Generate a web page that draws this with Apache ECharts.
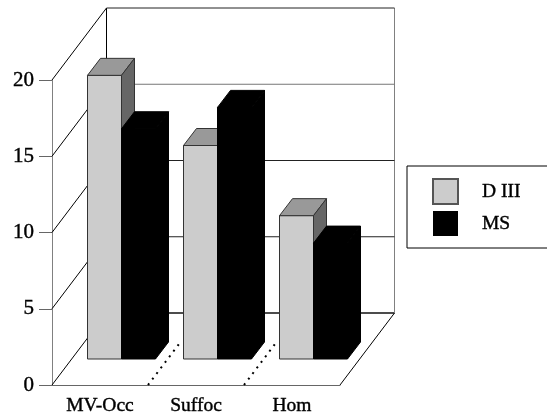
<!DOCTYPE html>
<html><head><meta charset="utf-8">
<style>html,body{margin:0;padding:0;background:#fff}#c{width:547px;height:418px}</style>
<script src="https://cdn.jsdelivr.net/npm/echarts@6/dist/echarts.min.js"></script>
</head><body><div id="c"></div>
<script>
const categories = ['MV-Occ', 'Suffoc', 'Hom'];
const dIII = [18.6, 14.0, 9.4];
const ms = [15.1, 16.5, 7.6];
const yTicks = [0, 5, 10, 15, 20];
const dividers = [1, 2];

const FONT = '"Liberation Serif","Times New Roman",serif';
const WALL_DX = 54.5, WALL_DY = -72;
const BAR_W = 34, BAR_LEFT = -12.5, BAR_FLOOR = -26, BAR_DX = 13, BAR_DY = -17;

const chart = echarts.init(document.getElementById('c'), null, {renderer: 'canvas'});

function line(x1, y1, x2, y2, stroke, lineWidth, dash) {
  return {type: 'line', shape: {x1, y1, x2, y2},
    style: {stroke, lineWidth: lineWidth || 1, lineDash: dash || null, fill: null}};
}
function poly(points, fill, stroke) {
  return {type: 'polygon', shape: {points}, style: {fill, stroke, lineWidth: 1}};
}
function renderFrame(params, api) {
  const v = api.value(0);
  const band = api.size([1, 0])[0];
  const left = api.coord([0, 0])[0] - band / 2;
  const right = api.coord([categories.length - 1, 0])[0] + band / 2;
  const y = api.coord([0, v])[1];
  const children = [
    line(left, y, left + WALL_DX, y + WALL_DY, '#000'),
    line(left + WALL_DX, y + WALL_DY, right + WALL_DX, y + WALL_DY,
      v === 15 ? '#777' : (v === 0 ? '#111' : '#222'), v === 0 ? 1.5 : 1)
  ];
  if (v === 0) {
    children.push(line(right, y, right + WALL_DX, y + WALL_DY, '#000'));
    const top = api.coord([0, 20])[1] + WALL_DY;
    children.push(line(left + WALL_DX, top, left + WALL_DX, y + WALL_DY, '#000'));
    children.push(line(right + WALL_DX, top, right + WALL_DX, y + WALL_DY, '#808080'));
  }
  return {type: 'group', children};
}
function renderDivider(params, api) {
  const i = api.value(0);
  const band = api.size([1, 0])[0];
  const p = api.coord([i, 0]);
  const x = p[0] - band / 2, f = 0.6;
  return line(x, p[1], x + WALL_DX * f, p[1] + WALL_DY * f, '#000', 2, [2, 5]);
}
function barRenderer(front, top, side, stroke) {
  return function (params, api) {
    const i = api.value(0), v = api.value(1);
    const p0 = api.coord([i, 0]), p1 = api.coord([i, v]);
    const s = params.seriesIndex - 2;
    const x0 = p0[0] + BAR_LEFT + s * BAR_W, x1 = x0 + BAR_W;
    const yb = p0[1] + BAR_FLOOR, yt = p1[1] + BAR_FLOOR;
    return {type: 'group', children: [
      poly([[x0, yb], [x1, yb], [x1, yt], [x0, yt]], front, stroke),
      poly([[x0, yt], [x1, yt], [x1 + BAR_DX, yt + BAR_DY], [x0 + BAR_DX, yt + BAR_DY]], top, stroke),
      poly([[x1, yb], [x1 + BAR_DX, yb + BAR_DY], [x1 + BAR_DX, yt + BAR_DY], [x1, yt]], side, stroke)
    ]};
  };
}
const textBold = {textBorderColor: '#000', textBorderWidth: 0.4};

chart.setOption({
  animation: false,
  backgroundColor: '#fff',
  grid: {left: 52, right: 207, top: 80, bottom: 33},
  legend: {
    data: ['D III', 'MS'], orient: 'vertical', left: 407, top: 166,
    padding: [12, 60, 12, 25], itemWidth: 25, itemHeight: 25, itemGap: 6,
    borderColor: '#000', borderWidth: 1, icon: 'rect',
    textStyle: {fontFamily: FONT, fontSize: 19.5, color: '#000', lineHeight: 22, padding: [3, 0, 0, 19], ...textBold}
  },
  xAxis: {
    type: 'category', data: categories,
    axisLine: {lineStyle: {color: '#666', width: 1}}, axisTick: {show: false},
    axisLabel: {fontFamily: FONT, fontSize: 19.5, color: '#000', margin: 11, ...textBold}
  },
  yAxis: {
    type: 'value', min: 0, max: 20, interval: 5,
    axisLine: {show: true, lineStyle: {color: '#808080', width: 1}},
    axisTick: {show: true, length: 13, lineStyle: {color: '#666'}},
    splitLine: {show: false},
    axisLabel: {fontFamily: FONT, fontSize: 21, color: '#000', margin: 18, ...textBold}
  },
  series: [
    {type: 'custom', name: 'frame', silent: true, z: 1, data: yTicks.map(v => [v]),
      renderItem: renderFrame, encode: {y: 0}},
    {type: 'custom', name: 'dividers', silent: true, z: 1, data: dividers.map(v => [v]),
      renderItem: renderDivider, encode: {x: 0}},
    {type: 'custom', name: 'D III', z: 2, itemStyle: {color: '#ccc', borderColor: '#555', borderWidth: 0.8},
      data: dIII.map((v, i) => [i, v]), encode: {x: 0, y: 1},
      renderItem: barRenderer('#cccccc', '#999999', '#666666', '#333')},
    {type: 'custom', name: 'MS', z: 3, itemStyle: {color: '#000', borderColor: '#000', borderWidth: 0},
      data: ms.map((v, i) => [i, v]), encode: {x: 0, y: 1},
      renderItem: barRenderer('#000', '#000', '#000', '#000')}
  ]
});
</script></body></html>
